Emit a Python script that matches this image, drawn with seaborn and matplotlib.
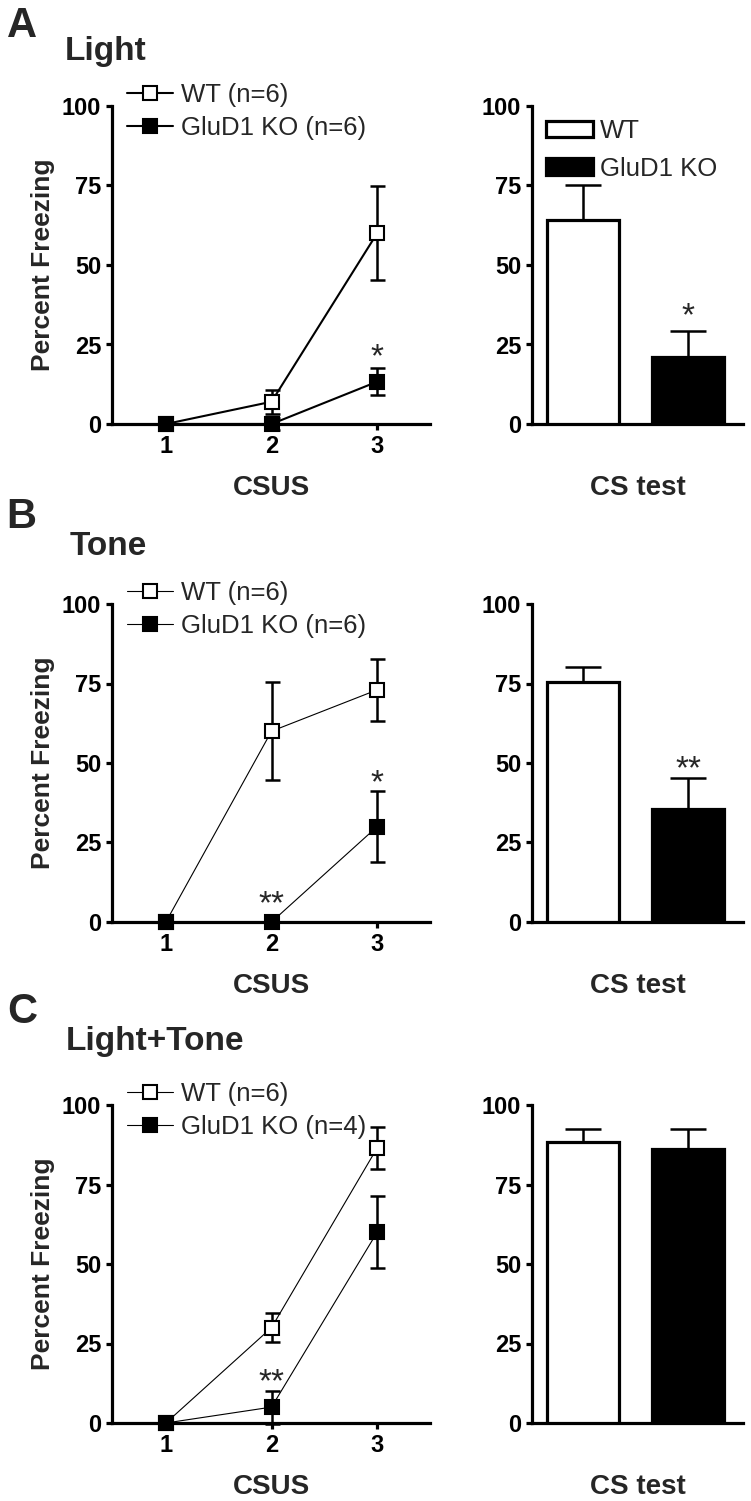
import matplotlib
matplotlib.use("Agg")
import matplotlib.pyplot as plt
import seaborn as sns

# ---- data ----
csus = [1, 2, 3]
groups = ["WT", "GluD1 KO"]

light_wt = [0, 7, 60]
light_wt_sem = [0, 3.7, 14.7]
light_ko = [0, 0, 13.3]
light_ko_sem = [0, 2.0, 4.3]
light_bar = [64, 21]
light_bar_sem = [11, 8.2]

tone_wt = [0, 60, 73]
tone_wt_sem = [0, 15.4, 9.8]
tone_ko = [0, 0, 30]
tone_ko_sem = [0, 0, 11.2]
tone_bar = [75.5, 35.5]
tone_bar_sem = [4.7, 9.9]

lt_wt = [0, 30, 86.5]
lt_wt_sem = [0, 4.5, 6.5]
lt_ko = [0, 5, 60]
lt_ko_sem = [0, 5.2, 11.3]
lt_bar = [88.5, 86.2]
lt_bar_sem = [4.0, 6.3]

letters = ["A", "B", "C"]
titles = ["Light", "Tone", "Light+Tone"]
wt_labels = ["WT (n=6)", "WT (n=6)", "WT (n=6)"]
ko_labels = ["GluD1 KO (n=6)", "GluD1 KO (n=6)", "GluD1 KO (n=4)"]

# significance marks: (x, y, text)
line_stars = [[(3, 23.3, "*")], [(2, 7.7, "**"), (3, 45.8, "*")], [(2, 15, "**")]]
bar_stars = [[(1, 36, "*")], [(1, 50.4, "**")], []]

W, H = 751, 1501


def add_px_axes(fig, left, top, width, height):
    return fig.add_axes([left / W, 1 - (top + height) / H, width / W, height / H])


def style_axes(ax):
    for side in ["top", "right"]:
        ax.spines[side].set_visible(False)
    for side in ["left", "bottom"]:
        ax.spines[side].set_linewidth(2.3)
        ax.spines[side].set_color("black")
    ax.tick_params(direction="out", length=4.3, width=2.3, colors="black",
                   labelsize=17, pad=3.5)
    for lab in ax.get_xticklabels() + ax.get_yticklabels():
        lab.set_fontweight("bold")
    ax.set_ylim(0, 100)
    ax.set_yticks([0, 25, 50, 75, 100])


def star(ax, x, y, s):
    ax.annotate(s, (x, y), xytext=(0, -5.5), textcoords="offset points",
                ha="center", va="center", fontsize=24, annotation_clip=False)


def plot_line_panel(ax, wt, wt_sem, ko, ko_sem, wt_label, ko_label, lw, stars):
    ax.errorbar(csus, wt, yerr=wt_sem, fmt="none", ecolor="black",
                elinewidth=1.8, capsize=5.4, capthick=1.8, zorder=2, clip_on=False)
    ax.errorbar(csus, ko, yerr=ko_sem, fmt="none", ecolor="black",
                elinewidth=1.8, capsize=5.4, capthick=1.8, zorder=2, clip_on=False)
    sns.lineplot(x=csus, y=wt, color="black", lw=lw, marker="s", markersize=9.5,
                 markerfacecolor="white", markeredgecolor="black",
                 markeredgewidth=1.5, clip_on=False, errorbar=None,
                 label=wt_label, zorder=3, ax=ax)
    wt_line = ax.lines[-1]
    sns.lineplot(x=csus, y=ko, color="black", lw=lw, marker="s", markersize=9.5,
                 markerfacecolor="black", markeredgecolor="black",
                 markeredgewidth=1.5, clip_on=False, errorbar=None,
                 label=ko_label, zorder=4, ax=ax)
    ko_line = ax.lines[-1]
    ax.set_xlim(0.49, 3.5)
    ax.set_xticks(csus)
    style_axes(ax)
    ax.set_ylabel("Percent Freezing", fontsize=19, fontweight="bold")
    ax.yaxis.set_label_coords(-0.18, 0.5)
    ax.set_xlabel("CSUS", fontsize=20, fontweight="bold")
    ax.xaxis.set_label_coords(0.5, -0.16)
    ax.legend(handles=[wt_line, ko_line], labels=[wt_label, ko_label],
              loc="center left", bbox_to_anchor=(0.047, 0.983),
              frameon=False, fontsize=18.5, borderpad=0, borderaxespad=0,
              handlelength=1.8, handletextpad=0.3, labelspacing=0.36,
              numpoints=1)
    for x, y, s in stars:
        star(ax, x, y, s)


def plot_bar_panel(ax, vals, sems, show_legend, stars):
    sns.barplot(x=groups, y=vals, hue=groups, palette=["white", "black"],
                edgecolor="black", linewidth=2.3, width=0.69, errorbar=None,
                legend=False, ax=ax, zorder=3)
    ax.errorbar([0, 1], vals, yerr=[[0, 0], sems], fmt="none", ecolor="black",
                elinewidth=1.8, capsize=13.3, capthick=1.8, zorder=2)
    ax.set_xlim(-0.486, 1.524)
    style_axes(ax)
    ax.set_xticks([])
    ax.set_xlabel("CS test", fontsize=20, fontweight="bold")
    ax.xaxis.set_label_coords(0.5, -0.16)
    ax.set_ylabel("")
    if show_legend:
        ax.legend(handles=[ax.patches[0], ax.patches[1]], labels=groups,
                  loc="center left", bbox_to_anchor=(0.068, 0.862),
                  frameon=False, fontsize=18.5, borderpad=0, borderaxespad=0,
                  handlelength=1.8, handleheight=0.6, handletextpad=0.3,
                  labelspacing=0.52)
    for x, y, s in stars:
        star(ax, x, y, s)


def main():
    sns.set_theme(style="ticks")
    plt.rcParams["font.family"] = ["Liberation Sans", "DejaVu Sans"]

    fig = plt.figure(figsize=(7.51, 15.01), dpi=100)

    tops = [106, 604, 1105]
    letter_pos = [(7, 37), (6, 528), (7, 1023)]
    title_pos = [(65, 60), (70, 555), (66, 1050)]
    line_data = [
        (light_wt, light_wt_sem, light_ko, light_ko_sem, 1.5),
        (tone_wt, tone_wt_sem, tone_ko, tone_ko_sem, 0.8),
        (lt_wt, lt_wt_sem, lt_ko, lt_ko_sem, 0.8),
    ]
    bar_data = [(light_bar, light_bar_sem), (tone_bar, tone_bar_sem), (lt_bar, lt_bar_sem)]

    for i in range(3):
        ax_line = add_px_axes(fig, 112, tops[i], 318, 318)
        wt, wt_sem, ko, ko_sem, lw = line_data[i]
        plot_line_panel(ax_line, wt, wt_sem, ko, ko_sem, wt_labels[i], ko_labels[i],
                        lw, line_stars[i])

        ax_bar = add_px_axes(fig, 532, tops[i], 211, 318)
        plot_bar_panel(ax_bar, bar_data[i][0], bar_data[i][1], i == 0, bar_stars[i])

        lx, ly = letter_pos[i]
        fig.text(lx / W, 1 - ly / H, letters[i], fontsize=30, fontweight="bold",
                 va="baseline", ha="left")
        tx, ty = title_pos[i]
        fig.text(tx / W, 1 - ty / H, titles[i], fontsize=24, fontweight="bold",
                 va="baseline", ha="left")

    fig.savefig("out.png", dpi=100, facecolor="white")


if __name__ == "__main__":
    main()
